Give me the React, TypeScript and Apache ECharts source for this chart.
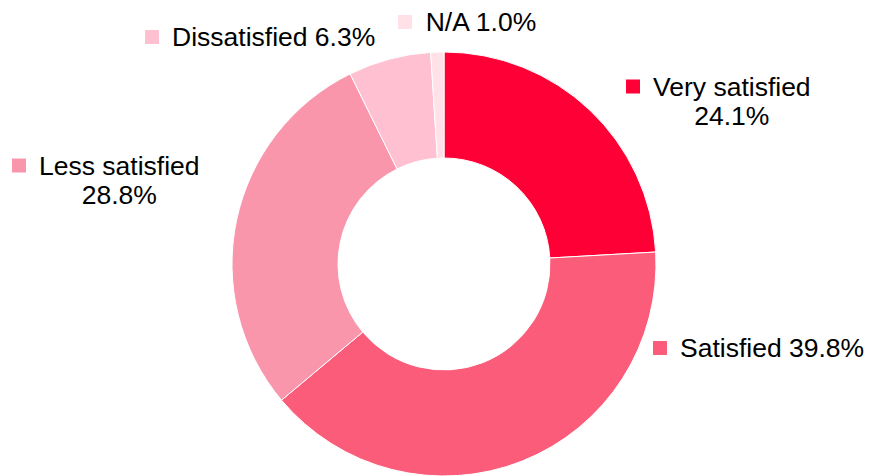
import React, { useEffect, useRef } from "react";
import * as echarts from "echarts";

const categories = ["Very satisfied", "Satisfied", "Less satisfied", "Dissatisfied", "N/A"];
const values = [24.1, 39.8, 28.8, 6.3, 1.0];
const colors = ["#FF0036", "#FA5C79", "#F996AB", "#FFC0D1", "#FFE1E7"];
// whether the percentage goes on a second line
const twoLine = [true, false, true, false, false];

// label anchor: left x, vertical centre y
const labelPos: Record<number, [number, number]> = {
  0: [626, 101],
  1: [653, 348],
  2: [12, 180],
  3: [145, 37],
  4: [398, 22],
};

export default function App() {
  const ref = useRef<HTMLDivElement>(null);
  useEffect(() => {
    if (!ref.current) return;
    const chart = echarts.init(ref.current, undefined, { renderer: "svg" });
    const font = "Liberation Sans, Arial, sans-serif";
    const rich: Record<string, any> = {
      t: { fontSize: 26.5, fontFamily: font, color: "#000", lineHeight: 29 },
      p: { fontSize: 26.5, fontFamily: font, color: "#000", lineHeight: 29, padding: [0, 0, 0, 27] },
      gap: { width: 13, height: 14 },
    };
    colors.forEach((c, i) => {
      rich["sq" + i] = { width: 14, height: 14, backgroundColor: c, padding: 0 };
    });
    chart.setOption({
      animation: false,
      series: [
        {
          type: "pie",
          center: [444, 264],
          radius: [106, 212],
          startAngle: 90,
          clockwise: true,
          avoidLabelOverlap: false,
          itemStyle: { borderColor: "#fff", borderWidth: 1 },
          labelLine: { show: false },
          label: {
            show: true,
            position: "outside",
            align: "center",
            formatter: (p: any) => {
              const i = p.dataIndex;
              const pct = values[i].toFixed(1) + "%";
              if (twoLine[i]) {
                return `{sq${i}|}{gap|}{t|${categories[i]}}\n{p|${pct}}`;
              }
              return `{sq${i}|}{gap|}{t|${categories[i]} ${pct}}`;
            },
            rich,
          },
          labelLayout: (params: any) => {
            const pos = labelPos[params.dataIndex];
            const w = params.labelRect.width;
            return {
              x: pos[0] + w / 2,
              y: pos[1],
              align: "center",
              verticalAlign: "middle",
            };
          },
          data: categories.map((name, i) => ({
            name,
            value: values[i],
            itemStyle: { color: colors[i] },
          })),
        },
      ],
    });
    return () => chart.dispose();
  }, []);
  return (
    <div
      ref={ref}
      style={{ position: "absolute", left: 0, top: 0, width: 869, height: 476, background: "#fff" }}
    />
  );
}
